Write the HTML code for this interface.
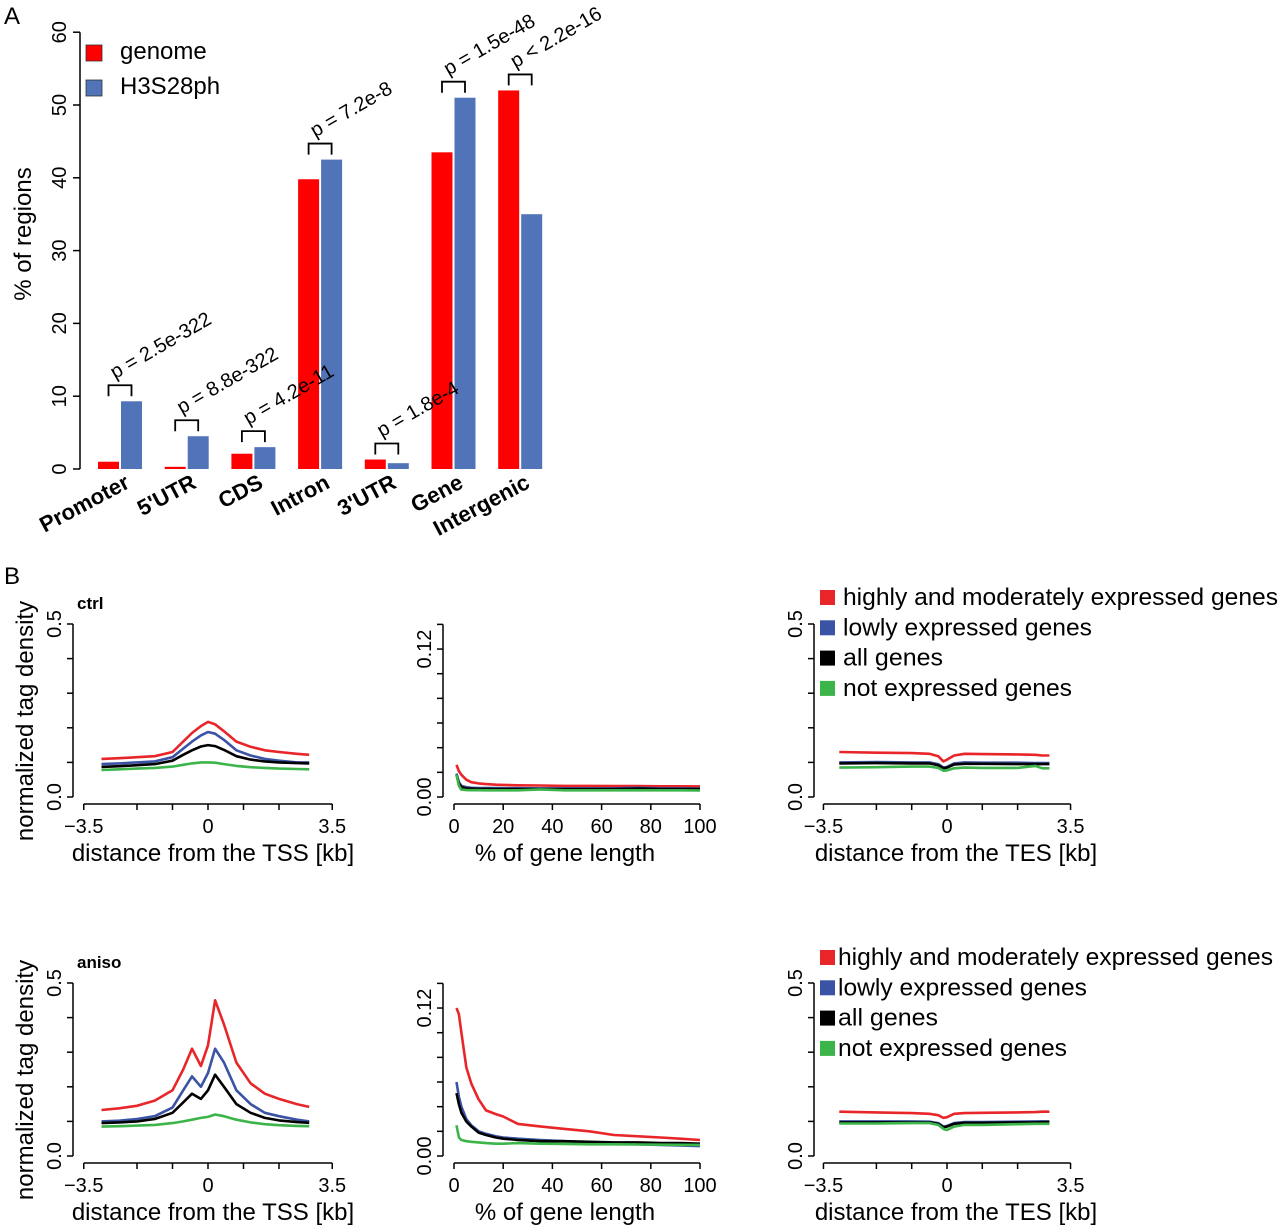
<!DOCTYPE html>
<html><head><meta charset="utf-8"><style>
body{margin:0;background:#fff}
svg{display:block;font-family:"Liberation Sans",Arial,sans-serif}
</style></head><body>
<svg id="fig" width="1280" height="1228" viewBox="0 0 1280 1228" xmlns="http://www.w3.org/2000/svg">
<text x="4" y="24" font-size="24">A</text>
<text x="4" y="584" font-size="24">B</text>
</svg>
<script>
// ---------- Panel A data ----------
const regionCats = ["Promoter","5'UTR","CDS","Intron","3'UTR","Gene","Intergenic"];
const genomeVals = [1.0, 0.3, 2.1, 39.8, 1.3, 43.5, 52.0];
const h3Vals = [9.3, 4.5, 3.0, 42.5, 0.8, 51.0, 35.0];
const pLabels = ["p = 2.5e-322","p = 8.8e-322","p = 4.2e-11","p = 7.2e-8","p = 1.8e-4","p = 1.5e-48","p < 2.2e-16"];
const aTicks = [0,10,20,30,40,50,60];

// ---------- Panel B data ----------
const tssX = [-3,-2.5,-2,-1.5,-1,-0.7,-0.45,-0.2,0,0.2,0.45,0.8,1.2,1.6,2,2.5,2.85];
const ctrlTssRed = [0.11,0.112,0.115,0.118,0.13,0.16,0.185,0.205,0.217,0.21,0.19,0.16,0.145,0.135,0.13,0.125,0.122];
const ctrlTssBlue = [0.095,0.097,0.1,0.103,0.115,0.14,0.16,0.178,0.188,0.183,0.165,0.135,0.12,0.11,0.105,0.1,0.1];
const ctrlTssBlack = [0.087,0.089,0.092,0.095,0.105,0.122,0.135,0.146,0.15,0.147,0.136,0.118,0.108,0.103,0.1,0.098,0.097];
const ctrlTssGreen = [0.078,0.08,0.082,0.084,0.088,0.093,0.097,0.1,0.1,0.099,0.095,0.09,0.086,0.084,0.082,0.081,0.08];
const anisoTssRed = [0.133,0.138,0.145,0.16,0.19,0.25,0.31,0.26,0.32,0.45,0.38,0.27,0.21,0.18,0.165,0.15,0.142];
const anisoTssBlue = [0.1,0.102,0.107,0.115,0.14,0.19,0.23,0.2,0.24,0.31,0.27,0.19,0.15,0.125,0.115,0.105,0.1];
const anisoTssBlack = [0.095,0.097,0.1,0.107,0.125,0.155,0.18,0.165,0.19,0.235,0.2,0.15,0.125,0.11,0.103,0.098,0.096];
const anisoTssGreen = [0.085,0.086,0.088,0.09,0.095,0.1,0.105,0.11,0.113,0.12,0.115,0.105,0.097,0.092,0.089,0.087,0.086];

const geneX = [1,2,3,5,7,10,13,17,20,26,35,45,55,65,75,84,92,100];
const ctrlGeneRed = [0.026,0.021,0.018,0.014,0.012,0.011,0.0105,0.01,0.0098,0.0095,0.0093,0.009,0.009,0.0088,0.0088,0.0087,0.0087,0.0086];
const ctrlGeneBlue = [0.019,0.012,0.009,0.008,0.0075,0.0073,0.0072,0.0072,0.0071,0.0071,0.007,0.007,0.007,0.007,0.0075,0.007,0.007,0.0068];
const ctrlGeneBlack = [0.018,0.011,0.008,0.007,0.0068,0.0066,0.0066,0.0065,0.0065,0.0065,0.0065,0.0065,0.0065,0.0065,0.0068,0.0065,0.0065,0.0064];
const ctrlGeneGreen = [0.018,0.009,0.006,0.0056,0.0055,0.0055,0.0054,0.0054,0.0054,0.0054,0.0062,0.0054,0.0054,0.0054,0.0054,0.0054,0.0054,0.0053];
const anisoGeneRed = [0.12,0.115,0.1,0.072,0.059,0.046,0.037,0.034,0.032,0.026,0.024,0.022,0.02,0.017,0.016,0.015,0.014,0.013];
const anisoGeneBlue = [0.06,0.048,0.04,0.03,0.025,0.02,0.018,0.016,0.015,0.014,0.013,0.012,0.011,0.01,0.0095,0.009,0.0085,0.008];
const anisoGeneBlack = [0.051,0.042,0.035,0.028,0.024,0.019,0.017,0.015,0.014,0.013,0.012,0.012,0.0115,0.011,0.011,0.0105,0.0105,0.01];
const anisoGeneGreen = [0.025,0.015,0.013,0.012,0.0115,0.011,0.0105,0.01,0.01,0.0105,0.01,0.0098,0.0095,0.0095,0.0093,0.0092,0.0091,0.009];

const tesX = [-3.05,-2,-1,-0.5,-0.25,-0.1,0,0.2,0.5,1,2,2.5,2.7,2.9];
const ctrlTesRed = [0.13,0.128,0.127,0.125,0.118,0.103,0.108,0.12,0.125,0.124,0.123,0.122,0.12,0.12];
const ctrlTesBlue = [0.1,0.101,0.1,0.1,0.095,0.085,0.087,0.097,0.1,0.099,0.099,0.098,0.098,0.098];
const ctrlTesBlack = [0.097,0.098,0.097,0.097,0.092,0.083,0.085,0.094,0.096,0.096,0.095,0.095,0.095,0.095];
const ctrlTesGreen = [0.085,0.086,0.088,0.088,0.084,0.076,0.077,0.083,0.085,0.084,0.084,0.09,0.083,0.083];
const anisoTesRed = [0.128,0.126,0.124,0.122,0.118,0.11,0.112,0.122,0.124,0.125,0.126,0.127,0.128,0.128];
const anisoTesBlue = [0.1,0.1,0.1,0.099,0.095,0.085,0.087,0.095,0.098,0.098,0.099,0.1,0.1,0.1];
const anisoTesBlack = [0.097,0.097,0.097,0.097,0.093,0.083,0.085,0.093,0.096,0.096,0.097,0.097,0.098,0.098];
const anisoTesGreen = [0.094,0.094,0.095,0.095,0.09,0.078,0.075,0.085,0.09,0.09,0.092,0.093,0.093,0.093];

const kbTicks = [-3.5,-2,-1,0,1,2,3.5];
const kbTickLabels = ["\u22123.5","","","0","","","3.5"];
const pctTicks = [0,20,40,60,80,100];
const densTicks = [0,0.1,0.2,0.3,0.4,0.5];
const geneDensTicks = [0,0.02,0.04,0.06,0.08,0.1,0.12,0.14];
const legendLabels = ["highly and moderately expressed genes","lowly expressed genes","all genes","not expressed genes"];

const NS = "http://www.w3.org/2000/svg";
const svg = document.getElementById('fig');
function mk(tag, attrs, parent){
  const e = document.createElementNS(NS, tag);
  for (const k in attrs) e.setAttribute(k, attrs[k]);
  (parent||svg).appendChild(e);
  return e;
}
const COL = {red:"#e8262a", blue:"#3a53a4", black:"#000000", green:"#3bb54a"};

// ---------- Panel A ----------
const aY = v => 469 - v*7.28;
const aGroupX = i => 98 + i*66.7;
const gA = mk('g', {});


let ax = mk('line', {x1:80,y1:aY(0),x2:80,y2:aY(60),stroke:"#000","stroke-width":1.5}, gA);


aTicks.forEach(t => {
  mk('line', {x1:73,y1:aY(t),x2:80,y2:aY(t),stroke:"#000","stroke-width":1.5}, gA);
  const tx = mk('text', {x:0,y:0,"font-size":20,"text-anchor":"middle",transform:`translate(66,${aY(t)}) rotate(-90)`}, gA);
  tx.textContent = t;
  
  
});
const yt = mk('text', {x:0,y:0,"font-size":24,"text-anchor":"middle",transform:"translate(31,234) rotate(-90)"}, gA);
yt.textContent = "% of regions";


regionCats.forEach((c,i) => {
  const gx = aGroupX(i);
  const r = mk('rect', {x:gx,y:aY(genomeVals[i]),width:21,height:aY(0)-aY(genomeVals[i]),fill:"#ff0000"}, gA);
  
  
  const b = mk('rect', {x:gx+23,y:aY(h3Vals[i]),width:21,height:aY(0)-aY(h3Vals[i]),fill:"#5173b8"}, gA);
  
  
});
regionCats.forEach((c,i) => {
  const gx = aGroupX(i);
  const top = aY(Math.max(genomeVals[i], h3Vals[i]) + 2.2);
  const br = mk('path', {d:`M${gx+10.5},${top+11}V${top}H${gx+33.5}V${top+11}`,fill:"none",stroke:"#000","stroke-width":1.8}, gA);
  
  
  const pt = mk('text', {x:0,y:0,"font-size":20,transform:`translate(${gx+17},${top-6}) rotate(-30)`}, gA);
  pt.textContent = pLabels[i];
  
  
  const xl = mk('text', {x:0,y:0,"font-size":22,"font-weight":"bold","text-anchor":"end",transform:`translate(${gx+33},${487}) rotate(-28)`}, gA);
  xl.textContent = c;
  
  
});
[["genome","#ff0000",45,59],["H3S28ph","#5173b8",80,94]].forEach(([lab,col,y,by]) => {
  const s = mk('rect', {x:86,y:y,width:16,height:16,fill:col,stroke:"#333","stroke-width":0.8}, gA);
  
  
  const t = mk('text', {x:120,y:by,"font-size":24}, gA);
  t.textContent = lab;
  
  
});

// ---------- Panel B ----------
function subplot(cfg){
  const g = mk('g', {});
  
  
  const X = v => cfg.x0 + v*cfg.xs;
  const Y = v => cfg.zero - v*cfg.ys;
  const yTop = Y(cfg.yTicks[cfg.yTicks.length-1]);
  const ya = mk('line', {x1:cfg.ax,y1:cfg.zero,x2:cfg.ax,y2:yTop,stroke:"#000","stroke-width":1.5}, g);
  
  
  cfg.yTicks.forEach((t,i) => {
    mk('line', {x1:cfg.ax-6,y1:Y(t),x2:cfg.ax,y2:Y(t),stroke:"#000","stroke-width":1.5}, g);
    if (cfg.yLabels[i]) {
      const tx = mk('text', {x:0,y:0,"font-size":20,"text-anchor":"middle",transform:`translate(${cfg.ax-12},${Y(t)}) rotate(-90)`}, g);
      tx.textContent = cfg.yLabels[i];
      
      
    }
  });
  const xy = cfg.zero + 7;
  const xa = mk('line', {x1:X(cfg.xTicks[0]),y1:xy,x2:X(cfg.xTicks[cfg.xTicks.length-1]),y2:xy,stroke:"#000","stroke-width":1.5}, g);
  
  
  cfg.xTicks.forEach((t,i) => {
    mk('line', {x1:X(t),y1:xy,x2:X(t),y2:xy+6,stroke:"#000","stroke-width":1.5}, g);
    if (cfg.xLabels[i]) {
      const tx = mk('text', {x:X(t),y:xy+29,"font-size":20,"text-anchor":"middle"}, g);
      tx.textContent = cfg.xLabels[i];
      
      
    }
  });
  const xt = mk('text', {x:cfg.titleX,y:xy+57,"font-size":24,"text-anchor":"middle"}, g);
  xt.textContent = cfg.title;
  
  
  cfg.series.forEach(([vals,col,nm]) => {
    const pts = cfg.xData.map((x,i) => X(x).toFixed(1)+","+Y(vals[i]).toFixed(1)).join(" ");
    const pl = mk('polyline', {points:pts,fill:"none",stroke:COL[col],"stroke-width":2.6,"stroke-linejoin":"round"}, g);
    
    
  });
}
const densLabels = ["0.0","","","","","0.5"];
const geneDensLabels = ["0.00","","","","","","0.12",""];
const pctLabels = pctTicks.map(String);
[[797,"ctrl",[ctrlTssRed,ctrlTssBlue,ctrlTssBlack,ctrlTssGreen],[ctrlGeneRed,ctrlGeneBlue,ctrlGeneBlack,ctrlGeneGreen],[ctrlTesRed,ctrlTesBlue,ctrlTesBlack,ctrlTesGreen]],
 [1156,"aniso",[anisoTssRed,anisoTssBlue,anisoTssBlack,anisoTssGreen],[anisoGeneRed,anisoGeneBlue,anisoGeneBlack,anisoGeneGreen],[anisoTesRed,anisoTesBlue,anisoTesBlack,anisoTesGreen]]
].forEach(([zero,cond,tss,gene,tes],row) => {
  const cols = ["red","blue","black","green"];
  const names = ["line-highly-expressed","line-lowly-expressed","line-all-genes","line-not-expressed"];
  subplot({name:cond+"-tss-profile",ax:73,x0:208,xs:35.5,zero:zero,ys:346,yTicks:densTicks,yLabels:densLabels,
    xTicks:kbTicks,xLabels:kbTickLabels,title:"distance from the TSS [kb]",titleX:213,xData:tssX,
    series:tss.map((v,i)=>[v,cols[i],names[i]])});
  subplot({name:cond+"-gene-body-profile",ax:443,x0:454,xs:2.46,zero:zero,ys:1233,yTicks:geneDensTicks,yLabels:geneDensLabels,
    xTicks:pctTicks,xLabels:pctLabels,title:"% of gene length",titleX:565,xData:geneX,
    series:gene.map((v,i)=>[v,cols[i],names[i]])});
  subplot({name:cond+"-tes-profile",ax:814,x0:947,xs:35.3,zero:zero,ys:346,yTicks:densTicks,yLabels:densLabels,
    xTicks:kbTicks,xLabels:kbTickLabels,title:"distance from the TES [kb]",titleX:956,xData:tesX,
    series:tes.map((v,i)=>[v,cols[i],names[i]])});
  const yl = mk('text', {x:0,y:0,"font-size":24,"text-anchor":"middle",transform:`translate(33,${zero-76}) rotate(-90)`});
  yl.textContent = "normalized tag density";
  
  
  const cl = mk('text', {x:77,y:zero-188,"font-size":17,"font-weight":"bold"});
  cl.textContent = cond;
  
  
  const lx = row===0 ? 843 : 838;
  const ly0 = row===0 ? 597 : 957;
  legendLabels.forEach((lab,i) => {
    const s = mk('rect', {x:820,y:ly0+i*30.3-7,width:15,height:15,fill:COL[cols[i]]});
    
    
    const t = mk('text', {x:lx,y:ly0+i*30.3+8,"font-size":24,textLength:row===0?[435,249,100,229][i]:[435,249,100,229][i],lengthAdjust:"spacingAndGlyphs"});
    t.textContent = lab;
    
    
  });
});
</script>
</body></html>
